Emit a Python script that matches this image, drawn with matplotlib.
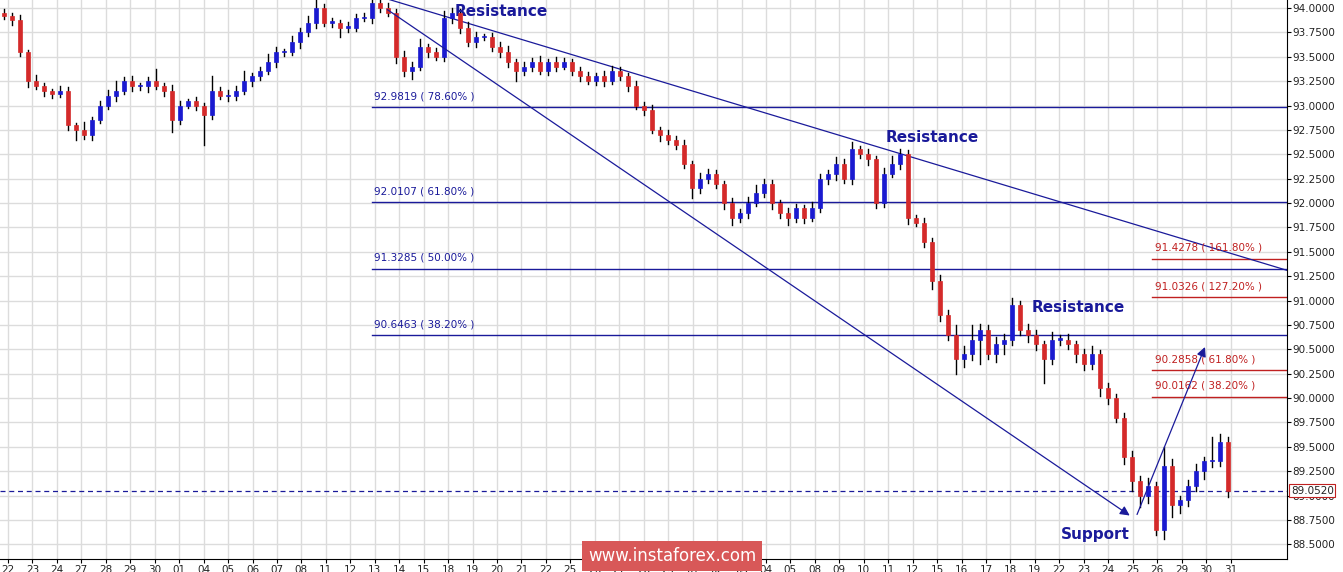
import matplotlib.pyplot as plt
from matplotlib.patches import Rectangle

# closing prices, one candle per slot
closes = [93.92, 93.88, 93.55, 93.25, 93.2, 93.15, 93.12, 93.15, 92.8, 92.75, 92.7, 92.85, 93.0, 93.1, 93.15, 93.25,
          93.2, 93.2, 93.25, 93.2, 93.15, 92.85, 93.0, 93.05, 93.0, 92.9, 93.15, 93.1, 93.1, 93.15, 93.25, 93.3,
          93.35, 93.45, 93.55, 93.55, 93.65, 93.75, 93.85, 94.0, 93.85, 93.85, 93.8, 93.8, 93.9, 93.9, 94.05, 94.0,
          93.95, 93.5, 93.35, 93.4, 93.6, 93.55, 93.5, 93.9, 93.95, 93.8, 93.65, 93.7, 93.7, 93.6, 93.55, 93.45,
          93.35, 93.4, 93.45, 93.35, 93.45, 93.4, 93.45, 93.35, 93.3, 93.25, 93.3, 93.25, 93.35, 93.3, 93.2, 93.0,
          92.95, 92.75, 92.7, 92.65, 92.6, 92.4, 92.15, 92.25, 92.3, 92.2, 92.0, 91.85, 91.9, 92.0, 92.1, 92.2,
          92.0, 91.9, 91.85, 91.95, 91.85, 91.95, 92.25, 92.3, 92.4, 92.25, 92.55, 92.5, 92.45, 92.0, 92.3, 92.4,
          92.5, 91.85, 91.8, 91.6, 91.2, 90.85, 90.65, 90.4, 90.45, 90.6, 90.7, 90.45, 90.55, 90.6, 90.95, 90.7,
          90.65, 90.55, 90.4, 90.6, 90.6, 90.55, 90.45, 90.35, 90.45, 90.1, 90.0, 89.8, 89.4, 89.15, 89.0, 89.1,
          88.65, 89.3, 88.9, 88.95, 89.1, 89.25, 89.35, 89.35, 89.55, 89.05]
opens = [93.95] + closes[:-1]
upper_wick = [0.04, 0.03, 0.05, 0.02, 0.06, 0.03, 0.02, 0.05, 0.04, 0.02, 0.08, 0.03, 0.05, 0.06, 0.10, 0.04,
              0.05, 0.03, 0.04, 0.12, 0.03, 0.06, 0.05, 0.02, 0.04, 0.03, 0.15, 0.04, 0.06, 0.05, 0.10, 0.03,
              0.04, 0.08, 0.05, 0.03, 0.06, 0.05, 0.07, 0.10, 0.04, 0.05, 0.03, 0.06, 0.04, 0.05, 0.08, 0.03,
              0.05, 0.04, 0.06, 0.05, 0.08, 0.03, 0.04, 0.07, 0.05, 0.04, 0.06, 0.05, 0.03, 0.04, 0.05, 0.06,
              0.03, 0.05, 0.04, 0.06, 0.03, 0.05, 0.04, 0.03, 0.05, 0.04, 0.03, 0.05, 0.06, 0.04, 0.03, 0.05,
              0.04, 0.06, 0.03, 0.05, 0.04, 0.05, 0.03, 0.06, 0.05, 0.04, 0.03, 0.05, 0.04, 0.06, 0.08, 0.05,
              0.04, 0.03, 0.05, 0.04, 0.03, 0.06, 0.05, 0.04, 0.07, 0.05, 0.08, 0.04, 0.05, 0.03, 0.06, 0.08,
              0.05, 0.04, 0.03, 0.05, 0.04, 0.06, 0.05, 0.10, 0.08, 0.15, 0.06, 0.05, 0.08, 0.06, 0.08, 0.05,
              0.06, 0.05, 0.04, 0.08, 0.05, 0.06, 0.04, 0.05, 0.08, 0.04, 0.05, 0.04, 0.05, 0.06, 0.05, 0.08,
              0.04, 0.20, 0.08, 0.05, 0.06, 0.07, 0.05, 0.25, 0.08, 0.05]
lower_wick = [0.03, 0.05, 0.04, 0.06, 0.03, 0.05, 0.04, 0.03, 0.05, 0.10, 0.04, 0.05, 0.03, 0.04, 0.05, 0.03,
              0.05, 0.04, 0.06, 0.03, 0.05, 0.12, 0.04, 0.03, 0.05, 0.30, 0.04, 0.03, 0.05, 0.04, 0.03, 0.05,
              0.04, 0.03, 0.05, 0.04, 0.03, 0.06, 0.04, 0.05, 0.03, 0.04, 0.10, 0.05, 0.04, 0.03, 0.05, 0.04,
              0.03, 0.06, 0.05, 0.08, 0.04, 0.05, 0.03, 0.04, 0.05, 0.06, 0.04, 0.05, 0.03, 0.04, 0.05, 0.06,
              0.10, 0.04, 0.05, 0.03, 0.04, 0.05, 0.03, 0.04, 0.05, 0.03, 0.04, 0.05, 0.03, 0.04, 0.05, 0.04,
              0.05, 0.03, 0.06, 0.04, 0.05, 0.04, 0.10, 0.05, 0.04, 0.05, 0.06, 0.08, 0.04, 0.05, 0.03, 0.04,
              0.06, 0.05, 0.08, 0.04, 0.05, 0.03, 0.04, 0.05, 0.06, 0.04, 0.05, 0.04, 0.06, 0.05, 0.04, 0.03,
              0.05, 0.06, 0.04, 0.05, 0.08, 0.06, 0.05, 0.15, 0.08, 0.06, 0.25, 0.05, 0.08, 0.10, 0.06, 0.05,
              0.08, 0.06, 0.25, 0.05, 0.06, 0.05, 0.08, 0.06, 0.05, 0.08, 0.06, 0.05, 0.08, 0.10, 0.12, 0.08,
              0.05, 0.10, 0.12, 0.08, 0.06, 0.05, 0.08, 0.06, 0.05, 0.06]

date_labels = ['22', '23', '24', '27', '28', '29', '30', '01', '04', '05', '06', '07', '08', '11', '12', '13', '14',
               '15', '18', '19', '20', '21', '22', '25', '26', '27', '28', '29', '01', '02', '03', '04', '05', '08',
               '09', '10', '11', '12', '15', '16', '17', '18', '19', '22', '23', '24', '25', '26', '29', '30', '31']

fib_left = [(92.9819, '78.60%'), (92.0107, '61.80%'), (91.3285, '50.00%'), (90.6463, '38.20%')]
fib_right = [(91.4278, '161.80%'), (91.0326, '127.20%'), (90.2858, '61.80%'), (90.0162, '38.20%')]
current_price = 89.0520

W, H = 1343, 572
fig = plt.figure(figsize=(W / 100, H / 100), dpi=100)
ax = fig.add_axes([0, 13 / H, 1287 / W, 1 - 13 / H])
ax.set_facecolor('white')

bull, bear = '#1a1ad0', '#d42a2a'
for i, (o, c) in enumerate(zip(opens, closes)):
    x = i + 0.5
    hi = max(o, c) + upper_wick[i]
    lo = min(o, c) - lower_wick[i]
    ax.plot([x, x], [lo, hi], color='black', lw=1, zorder=3)
    col = bull if c >= o else bear
    body = max(abs(c - o), 0.012)
    ax.add_patch(Rectangle((x - 0.3, min(o, c)), 0.6, body, facecolor=col, edgecolor=col, lw=0.5, zorder=4))

xmax = 1287 / 8
ax.set_xlim(0, xmax)
ax.set_ylim(88.35, 94.082)

# grid
yt = [88.5 + 0.25 * k for k in range(23)]
xt = [(8 + 24.45 * k) / 8 for k in range(len(date_labels))]
ax.set_yticks(yt)
ax.set_xticks(xt)
ax.grid(True, color='#dcdcdc', lw=1, zorder=0)
ax.yaxis.tick_right()
ax.set_yticklabels([f'{v:.4f}' for v in yt], fontsize=7.5, color='#222222')
ax.set_xticklabels(date_labels, fontsize=7.5, color='#222222')
ax.tick_params(axis='both', length=3, pad=1)
for s in ['top', 'left']:
    ax.spines[s].set_visible(False)

navy = '#1a1a9a'
# fib levels
for v, p in fib_left:
    ax.plot([372 / 8, xmax], [v, v], color=navy, lw=1, zorder=2)
    ax.text(374 / 8, v + 0.06, f'{v:.4f} ( {p} )', fontsize=7.5, color=navy, va='bottom')
for v, p in fib_right:
    ax.plot([1152 / 8, xmax], [v, v], color='#c02020', lw=1, zorder=2)
    ax.text(1155 / 8, v + 0.06, f'{v:.4f} ( {p} )', fontsize=7.5, color='#c02020', va='bottom')

# trend lines
ax.plot([385 / 8, xmax], [94.1, 91.31], color=navy, lw=0.9, zorder=2)
ax.annotate('', xy=(1132 / 8, 88.78), xytext=(385 / 8, 94.0),
            arrowprops=dict(arrowstyle='-|>', color=navy, lw=0.9, mutation_scale=14), zorder=5)
ax.annotate('', xy=(1206 / 8, 90.55), xytext=(1136 / 8, 88.78),
            arrowprops=dict(arrowstyle='-|>', color=navy, lw=0.9, mutation_scale=14), zorder=5)

# current price
ax.axhline(current_price, color=navy, lw=0.9, ls=(0, (4, 3)), zorder=2)
ax.text(1.003, current_price, f'{current_price:.4f}', transform=ax.get_yaxis_transform(), fontsize=7.5,
        va='center', ha='left', color='#222222', clip_on=False,
        bbox=dict(boxstyle='square,pad=0.15', fc='white', ec='#c02020', lw=0.8), zorder=10)

lab = dict(fontsize=11, color=navy, fontweight='bold')
ax.text(455 / 8, 93.92, 'Resistance', **lab)
ax.text(886 / 8, 92.63, 'Resistance', **lab)
ax.text(1032 / 8, 90.88, 'Resistance', **lab)
ax.text(1061 / 8, 88.55, 'Support', **lab)

fig.text(672 / W, 1 - 556 / H, 'www.instaforex.com', fontsize=12, color='white', ha='center', va='center',
         bbox=dict(boxstyle='square,pad=0.35', fc='#d85858', ec='none'), zorder=10)

fig.savefig('out.png', dpi=100)
